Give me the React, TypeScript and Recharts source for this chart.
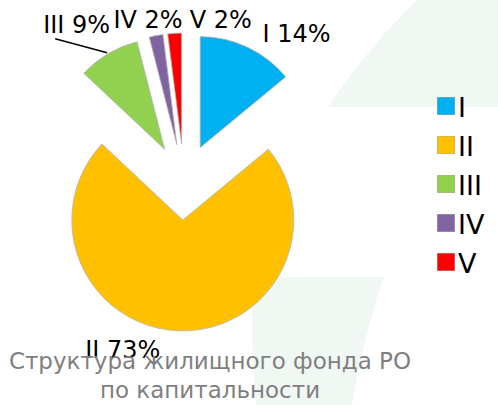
import { Legend, Pie, PieChart, Sector } from "recharts";

const categories = ["I", "II", "III", "IV", "V"];
const shares = [14, 73, 9, 2, 2];
const colors = ["#00B0F0", "#FFC000", "#92D050", "#8064A2", "#FF0000"];

const titleLines = ["Структура жилищного фонда РО", "по капитальности"];

const data = categories.map((name, i) => ({
  name,
  value: shares[i],
  fill: colors[i],
}));

const RAD = Math.PI / 180;
const EXPLODE = 38;
const FONT = "'DejaVu Sans', Verdana, sans-serif";

// label placement relative to the outer point of each exploded slice
const labelLayout = [
  { dx: 15, dy: -5, anchor: "start" },
  { dx: -19, dy: 27, anchor: "end" },
  { dx: 2, dy: -21, anchor: "end", leader: true },
  { dx: -8, dy: -8, anchor: "middle" },
  { dx: 15, dy: -5, anchor: "start" },
];

const renderSlice = (props: any) => {
  const { cx, cy, midAngle } = props;
  return (
    <Sector
      {...props}
      cx={cx + EXPLODE * Math.cos(-midAngle * RAD)}
      cy={cy + EXPLODE * Math.sin(-midAngle * RAD)}
      stroke="#b4b4b4"
      strokeWidth={0.8}
    />
  );
};

const renderLabel = (props: any) => {
  const { cx, cy, midAngle, outerRadius, index, name, percent } = props;
  const r = outerRadius + EXPLODE;
  const px = cx + r * Math.cos(-midAngle * RAD);
  const py = cy + r * Math.sin(-midAngle * RAD);
  const l = labelLayout[index];
  return (
    <g>
      {l.leader && (
        <line
          x1={px - 1}
          y1={py - 1}
          x2={px - 53}
          y2={py - 15}
          stroke="#000"
          strokeWidth={1.3}
        />
      )}
      <text
        x={px + l.dx}
        y={py + l.dy}
        textAnchor={l.anchor}
        fontFamily={FONT}
        fontSize={24}
        fill="#000"
      >
        {`${name} ${Math.round(percent * 100)}%`}
      </text>
    </g>
  );
};

const renderLegend = (props: any) => {
  const { payload } = props;
  return (
    <div>
      {payload.map((entry: any) => (
        <div
          key={entry.value}
          style={{
            display: "flex",
            alignItems: "center",
            height: 39,
            fontFamily: FONT,
            fontSize: 27,
            color: "#000",
          }}
        >
          <span
            style={{
              display: "inline-block",
              width: 18,
              height: 18,
              background: entry.color,
              boxShadow: "0 0 0 0.5px #aaa inset",
              marginRight: 3,
            }}
          />
          <span style={{ marginTop: 3 }}>{entry.value}</span>
        </div>
      ))}
    </div>
  );
};

export default function App() {
  return (
    <div
      style={{
        position: "absolute",
        left: 0,
        top: 0,
        width: 498,
        height: 405,
        background: "#fff",
        overflow: "hidden",
      }}
    >
      {/* faint watermark shapes in the background */}
      <svg
        width={498}
        height={405}
        style={{ position: "absolute", left: 0, top: 0 }}
      >
        <path
          d="M328 107 Q370 45 417 0 L498 0 L498 107 Z"
          fill="#f1f8f4"
        />
        <path
          d="M253 277 L384 277 Q365 330 352 405 L256 405 Q250 340 253 277 Z"
          fill="#f1f8f4"
        />
      </svg>
      <div style={{ position: "absolute", left: 0, top: 0 }}>
        <PieChart width={498} height={405} margin={{ top: 0, right: 0, bottom: 0, left: 0 }}>
          <Pie
            data={data}
            dataKey="value"
            nameKey="name"
            cx={184}
            cy={182}
            outerRadius={111}
            startAngle={90}
            endAngle={-270}
            isAnimationActive={false}
            shape={renderSlice}
            label={renderLabel}
            labelLine={false}
          />
          <Legend
            content={renderLegend}
            layout="vertical"
            align="right"
            verticalAlign="top"
            wrapperStyle={{ left: 437, top: 86, width: 61 }}
          />
        </PieChart>
      </div>
      <div
        style={{
          position: "absolute",
          left: 0,
          top: 347,
          width: 420,
          textAlign: "center",
          fontFamily: FONT,
          fontSize: 23,
          lineHeight: "29px",
          color: "#7f7f7f",
        }}
      >
        {titleLines.map((t) => (
          <div key={t}>{t}</div>
        ))}
      </div>
    </div>
  );
}
